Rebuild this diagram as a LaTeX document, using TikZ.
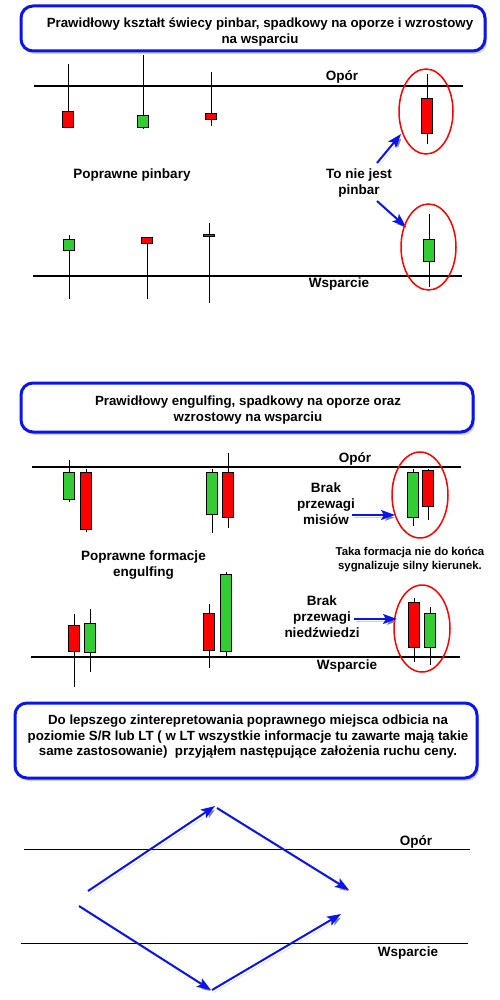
\documentclass[tikz,border=0pt]{standalone}
\usepackage{fontspec}
\setmainfont{Liberation Sans}
\usetikzlibrary{shapes.geometric,arrows.meta,shadows}
\definecolor{cgreen}{RGB}{50,205,50}
\definecolor{cred}{RGB}{255,0,0}
\definecolor{cblue}{RGB}{10,20,235}
\newcommand\mycandle[6]{%
  \draw[wick] (#1,#2) -- (#1,#5);
  \draw[cbody, fill=#6] ({#1-5.25},#3) rectangle ({#1+5.25},#4);
}
\tikzset{
  wick/.style={black, line width=0.9pt},
  cbody/.style={draw=black, line width=0.9pt},
  level/.style={black, line width=2.6pt},
  thinlevel/.style={black, line width=1pt},
  lbl/.style={font=\bfseries\fontsize{13.5}{16}\selectfont, align=center, inner sep=0pt},
  boxtxt/.style={font=\bfseries\fontsize{13.3}{15.5}\selectfont, align=center, inner sep=0pt},
  smalllbl/.style={font=\bfseries\fontsize{11.4}{13.5}\selectfont, align=center, inner sep=0pt},
  titlebox/.style={draw=cblue, line width=3pt, rounded corners=12pt, fill=white, inner sep=0pt,
    drop shadow={shadow xshift=2pt, shadow yshift=-3pt, opacity=0.35, fill=gray}},
  ring/.style={draw=cred, ellipse, line width=1.5pt, inner sep=0pt},
  arr/.style={cblue, line width=2pt, -{Stealth[length=14pt,width=10pt,inset=3pt]},
    preaction={draw=gray, draw opacity=0.35, transform canvas={shift={(2pt,-2.5pt)}}}},
}
\begin{document}
\begin{tikzpicture}[x=1pt,y=-1pt]
\useasboundingbox (0,0) rectangle (500,1000);
\fill[white] (0,0) rectangle (500,1000);

% ---------- Section 1 ----------
\node[titlebox, minimum width=464pt, minimum height=45pt] (box1) at (253,28.5) {};
\node[boxtxt] (t1) at (260,32) {Prawidłowy kształt świecy pinbar, spadkowy na oporze i wzrostowy\\na wsparciu};

\draw[level] (34,86) -- (463,86);
\node[lbl] (op1) at (342,77) {Opór};
\mycandle{68}{64}{111}{127}{127}{cred}
\mycandle{143}{55}{115}{127}{129}{cgreen}
\mycandle{211}{72}{113}{119}{126}{cred}
\mycandle{427}{74}{98}{133}{144}{cred}
\node[ring, minimum width=54pt, minimum height=85pt] (e1) at (426,111.5) {};

\node[lbl] (pp) at (132,175) {Poprawne pinbary};
\node[lbl] (np) at (359,183.5) {To nie jest\\pinbar};
\coordinate (a1s) at (377,163);
\coordinate (a1e) at (401,134);
\coordinate (a2s) at (377,201);
\coordinate (a2e) at (406,227);
\draw[arr] (a1s) -- (a1e);
\draw[arr] (a2s) -- (a2e);

\draw[level] (33,276) -- (462,276);
\node[lbl] (ws1) at (339,284) {Wsparcie};
\mycandle{69}{235}{239}{250}{299}{cgreen}
\mycandle{147}{237}{237}{243}{299}{cred}
\mycandle{209}{223}{234}{236}{303}{cred}
\mycandle{429}{214}{239}{261}{287}{cgreen}
\node[ring, minimum width=55pt, minimum height=86pt] (e2) at (428.5,247) {};

% ---------- Section 2 ----------
\node[titlebox, minimum width=452pt, minimum height=49pt] (box2) at (247,407.5) {};
\node[boxtxt] (t2) at (248,410) {Prawidłowy engulfing, spadkowy na oporze oraz\\wzrostowy na wsparciu};

\draw[level] (32,467) -- (461,467);
\node[lbl] (op2) at (355,459) {Opór};
\mycandle{69}{460}{472}{499}{502}{cgreen}
\mycandle{86}{469}{472}{529}{532}{cred}
\mycandle{212}{469}{472}{514}{533}{cgreen}
\mycandle{228}{453}{472}{517}{528}{cred}
\mycandle{413}{469}{472}{517}{526}{cgreen}
\mycandle{428}{469}{470}{506}{520}{cred}
\node[ring, minimum width=56pt, minimum height=86pt] (e3) at (420,495) {};
\node[lbl] (bm) at (326,504) {Brak\\przewagi\\misiów};
\coordinate (a3s) at (352,515);
\coordinate (a3e) at (395,515);
\draw[arr] (a3s) -- (a3e);

\node[smalllbl] (tk) at (410,559.5) {Taka formacja nie do końca\\sygnalizuje silny kierunek.};
\node[lbl] (pf) at (143.5,565) {Poprawne formacje\\engulfing};

\draw[level] (31,657) -- (460,657);
\node[lbl] (ws2) at (347,666) {Wsparcie};
\mycandle{74}{614}{625}{651}{687}{cred}
\mycandle{90}{609}{623}{652}{672}{cgreen}
\mycandle{209}{604}{613}{650}{668}{cred}
\mycandle{226}{572}{574}{651}{656}{cgreen}
\mycandle{414}{598}{602}{647}{662}{cred}
\mycandle{430}{607}{613}{647}{665}{cgreen}
\node[ring, minimum width=56pt, minimum height=87pt] (e4) at (422,628.5) {};
\node[lbl] (bn) at (322,617) {Brak\\przewagi\\niedźwiedzi};
\coordinate (a4s) at (354,619);
\coordinate (a4e) at (397,619);
\draw[arr] (a4s) -- (a4e);

% ---------- Section 3 ----------
\node[titlebox, minimum width=462pt, minimum height=75pt] (box3) at (246,740.5) {};
\node[boxtxt] (t3) at (248,737) {Do lepszego zinterepretowania poprawnego miejsca odbicia na\\poziomie S/R lub LT ( w LT wszystkie informacje tu zawarte mają takie\\same zastosowanie)\ \ przyjąłem następujące założenia ruchu ceny.};

\draw[thinlevel] (24,849) -- (470,849);
\node[lbl] (op3) at (416,842) {Opór};
\draw[thinlevel] (21,943) -- (468,943);
\node[lbl] (ws3) at (408,953) {Wsparcie};

\coordinate (p1) at (88,891);
\coordinate (p2) at (215,806);
\coordinate (p3) at (217,808);
\coordinate (p4) at (349,890);
\coordinate (p5) at (79,906);
\coordinate (p6) at (211,990);
\coordinate (p7) at (212,990);
\coordinate (p8) at (341,914);
\draw[arr] (p1) -- (p2);
\draw[arr] (p3) -- (p4);
\draw[arr] (p5) -- (p6);
\draw[arr] (p7) -- (p8);
\end{tikzpicture}
\end{document}
